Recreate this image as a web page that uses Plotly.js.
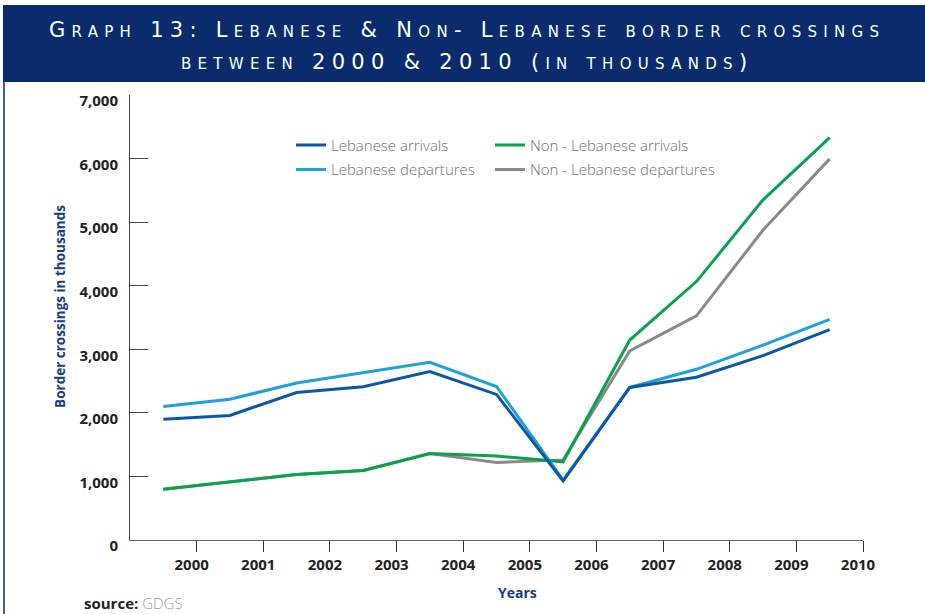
<!DOCTYPE html>
<html>
<head>
<meta charset="utf-8">
<script src="https://cdn.plot.ly/plotly-3.0.1.min.js"></script>
<style>
  body { margin: 0; background: #fff; }
  #chart { width: 925px; height: 614px; }
</style>
</head>
<body>
<div id="chart"></div>
<script>
// border crossings, thousands
var years = [2000, 2001, 2002, 2003, 2004, 2005, 2006, 2007, 2008, 2009, 2010];
var yearLabels = ["2000", "2001", "2002", "2003", "2004", "2005", "2006", "2007", "2008", "2009", "2010"];
var lebArrivals = [1900, 1960, 2320, 2410, 2650, 2290, 930, 2400, 2560, 2900, 3310];
var lebDepartures = [2100, 2215, 2470, 2635, 2795, 2415, 940, 2400, 2685, 3065, 3470];
var nonLebArrivals = [800, 910, 1030, 1095, 1360, 1320, 1230, 3145, 4065, 5350, 6330];
var nonLebDepartures = [800, 910, 1030, 1095, 1360, 1220, 1260, 2975, 3525, 4875, 5995];

var navy = "#0b2c6c";
var legendFont = {family: "Open Sans", size: 15, weight: 300, color: "#707070"};

var traces = [
  {x: years, y: nonLebDepartures, name: "Non - Lebanese departures", mode: "lines",
   line: {color: "#8a8a8a", width: 3}, legend: "legend2", legendrank: 2, legendgroup: "nd"},
  {x: years, y: lebDepartures, name: "Lebanese departures", mode: "lines",
   line: {color: "#1ea1dd", width: 3}, legend: "legend", legendrank: 2, legendgroup: "ld"},
  {x: years, y: nonLebArrivals, name: "Non - Lebanese arrivals", mode: "lines",
   line: {color: "#0ba24c", width: 3}, legend: "legend2", legendrank: 1, legendgroup: "na"},
  {x: years, y: lebArrivals, name: "Lebanese arrivals", mode: "lines",
   line: {color: "#0d58a6", width: 3}, legend: "legend", legendrank: 1, legendgroup: "la"}
];

// tick marks sit between the years
var tickPos = years.map(function (y) { return y + 0.5; });

var titleFont = {family: "DejaVu Sans", size: 21, color: "#fff", variant: "small-caps"};

var layout = {
  width: 925,
  height: 614,
  margin: {l: 130, r: 62, t: 95, b: 74},
  paper_bgcolor: "#fff",
  plot_bgcolor: "#fff",
  font: {family: "Open Sans", color: "#222"},
  xaxis: {
    range: [1999.5, 2010.5],
    tickvals: tickPos,
    ticktext: yearLabels,
    ticklabelshift: -5,
    ticks: "outside",
    ticklen: 11,
    tickcolor: "#333",
    showline: true,
    linecolor: "#666",
    showgrid: false,
    zeroline: false,
    tickfont: {family: "Open Sans", size: 15, weight: 700, color: "#222"}
  },
  yaxis: {
    range: [0, 7000],
    dtick: 1000,
    tickformat: ",d",
    ticks: "inside",
    ticklen: 18,
    tickcolor: "#444",
    ticklabelshift: 6,
    ticklabelstandoff: 8,
    showline: true,
    linecolor: "#444",
    showgrid: false,
    zeroline: false,
    tickfont: {family: "Open Sans", size: 15, weight: 700, color: "#222"}
  },
  legend: {
    x: 0.2196, y: 0.924, xanchor: "left", yanchor: "top", tracegroupgap: 2,
    bgcolor: "rgba(0,0,0,0)", font: legendFont
  },
  legend2: {
    x: 0.491, y: 0.924, xanchor: "left", yanchor: "top", tracegroupgap: 2,
    bgcolor: "rgba(0,0,0,0)", font: legendFont
  },
  shapes: [
    {type: "rect", xref: "paper", yref: "paper", x0: -0.1733, x1: 1.09, y0: 1.029, y1: 1.2022,
     fillcolor: navy, line: {width: 0}, layer: "below"},
    {type: "line", xref: "paper", yref: "paper", x0: -0.1719, x1: -0.1719, y0: -0.17, y1: 1.03,
     line: {color: navy, width: 1.5}}
  ],
  annotations: [
    {text: '<span style="letter-spacing:6.3px">Graph 13: Lebanese &amp; Non- Lebanese border crossings</span>',
     xref: "paper", yref: "paper", x: 0.4598, y: 1.146, xanchor: "center", yanchor: "middle",
     showarrow: false, font: titleFont},
    {text: '<span style="letter-spacing:6.3px">between 2000 &amp; 2010 (in thousands)</span>',
     xref: "paper", yref: "paper", x: 0.4598, y: 1.074, xanchor: "center", yanchor: "middle",
     showarrow: false, font: titleFont},
    {text: "Border crossings in thousands", textangle: -90,
     xref: "paper", yref: "paper", x: -0.0955, y: 0.526, xanchor: "center", yanchor: "middle",
     showarrow: false, font: {family: "Open Sans", size: 13.5, weight: 700, color: "#1a3b86"}},
    {text: "Years",
     xref: "paper", yref: "paper", x: 0.529, y: -0.119, xanchor: "center", yanchor: "middle",
     showarrow: false, font: {family: "Open Sans", size: 14, weight: 700, color: "#1a3b86"}},
    {text: '<b>source:</b> <span style="color:#9a9a9a;font-weight:300">GDGS</span>',
     xref: "paper", yref: "paper", x: -0.0655, y: -0.1415, xanchor: "left", yanchor: "middle",
     showarrow: false, font: {family: "Open Sans", size: 15, color: "#222"}}
  ]
};

Plotly.newPlot("chart", traces, layout, {displayModeBar: false, responsive: false});
</script>
</body>
</html>
